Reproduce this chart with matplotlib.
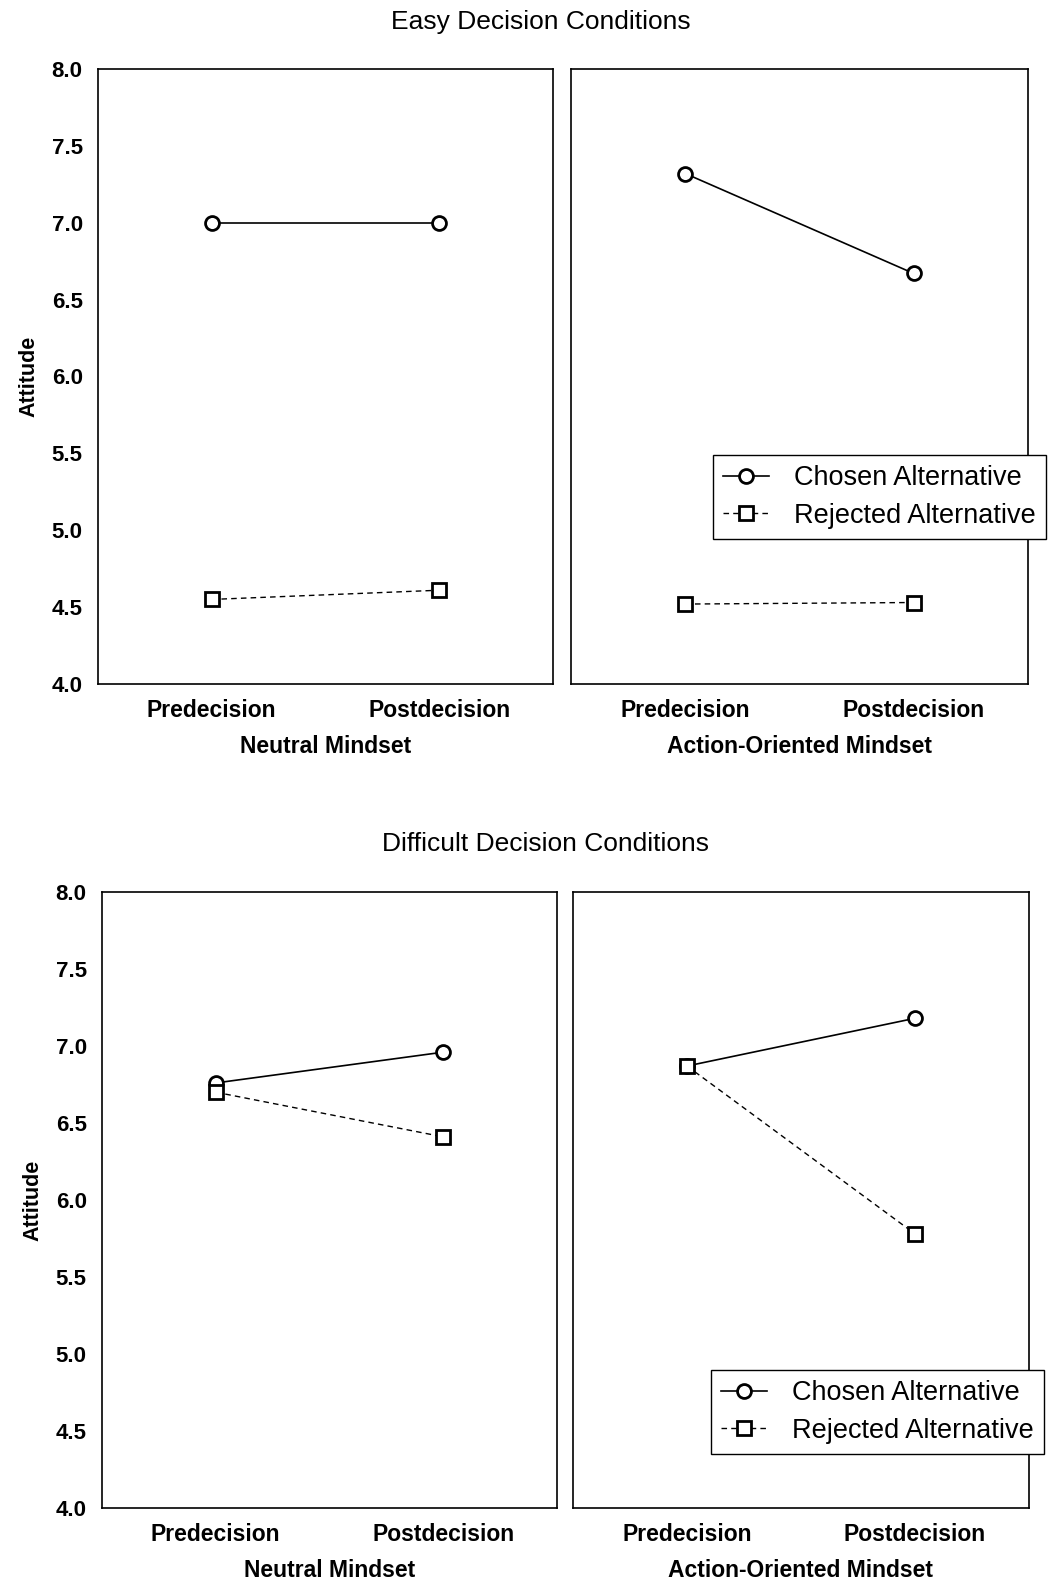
import matplotlib
matplotlib.use("Agg")
from matplotlib import pyplot as plt

plt.rcParams['font.family'] = ['Liberation Sans', 'DejaVu Sans']

conditions = ["Predecision", "Postdecision"]
mindsets = ["Neutral Mindset", "Action-Oriented Mindset"]
panel_titles = ["Easy Decision Conditions", "Difficult Decision Conditions"]
series_labels = ["Chosen Alternative", "Rejected Alternative"]
y_ticks = [4.0, 4.5, 5.0, 5.5, 6.0, 6.5, 7.0, 7.5, 8.0]

easy_chosen_neutral = [7.00, 7.00]
easy_rejected_neutral = [4.55, 4.61]
easy_chosen_action = [7.32, 6.67]
easy_rejected_action = [4.52, 4.53]

diff_chosen_neutral = [6.76, 6.96]
diff_rejected_neutral = [6.70, 6.41]
diff_chosen_action = [6.87, 7.18]
diff_rejected_action = [6.87, 5.78]

W, H = 1049, 1580
fig = plt.figure(figsize=(W / 100, H / 100), dpi=100)


def px_axes(x0, y0, x1, y1):
    return fig.add_axes([x0 / W, 1 - y1 / H, (x1 - x0) / W, (y1 - y0) / H])


def draw_panel(ax, chosen, rejected, mindset, show_y):
    xs = range(len(conditions))
    ax.plot(xs, chosen, '-o', color='black', lw=1.2, ms=10, mew=2.0,
            mfc='white', label=series_labels[0])
    ax.plot(xs, rejected, '--s', color='black', lw=1.0, ms=10.5, mew=2.0,
            mfc='white', dashes=(4, 3), label=series_labels[1])
    ax.set_xlim(-0.5, 1.5)
    ax.set_ylim(4.0, 8.0)
    ax.set_xticks(list(xs))
    ax.set_xticklabels(conditions, fontsize=16.5, fontweight='bold')
    ax.set_xlabel(mindset, fontsize=16.5, fontweight='bold', labelpad=9)
    ax.tick_params(length=0, pad=11)
    if show_y:
        ax.set_yticks(y_ticks)
        ax.set_yticklabels([f"{v:.1f}" for v in y_ticks], fontsize=16,
                           fontweight='bold')
        ax.set_ylabel("Attitude", fontsize=15.5, fontweight='bold', labelpad=9)
    else:
        ax.set_yticks([])
    for s in ax.spines.values():
        s.set_linewidth(1.2)


def add_legend(ax, x0, y0):
    ax.legend(loc='upper left', bbox_to_anchor=(x0 / W, 1 - y0 / H),
              bbox_transform=fig.transFigure, fontsize=19.5, frameon=True,
              fancybox=False, framealpha=1, edgecolor='black',
              handlelength=1.7, handletextpad=0.9, labelspacing=0.42,
              borderpad=0.38, borderaxespad=0)


# top: easy decisions
ax1 = px_axes(98, 69, 553, 684)
ax2 = px_axes(571, 69, 1028, 684)
draw_panel(ax1, easy_chosen_neutral, easy_rejected_neutral, mindsets[0], True)
draw_panel(ax2, easy_chosen_action, easy_rejected_action, mindsets[1], False)
add_legend(ax2, 713, 455)
fig.text(541 / W, 1 - 22 / H, panel_titles[0], ha='center', va='center',
         fontsize=19)

# bottom: difficult decisions
ax3 = px_axes(102, 892, 557, 1508)
ax4 = px_axes(573, 892, 1029, 1508)
draw_panel(ax3, diff_chosen_neutral, diff_rejected_neutral, mindsets[0], True)
draw_panel(ax4, diff_chosen_action, diff_rejected_action, mindsets[1], False)
add_legend(ax4, 711, 1370)
fig.text(545 / W, 1 - 844 / H, panel_titles[1], ha='center', va='center',
         fontsize=19)

fig.savefig("out.png", dpi=100)
